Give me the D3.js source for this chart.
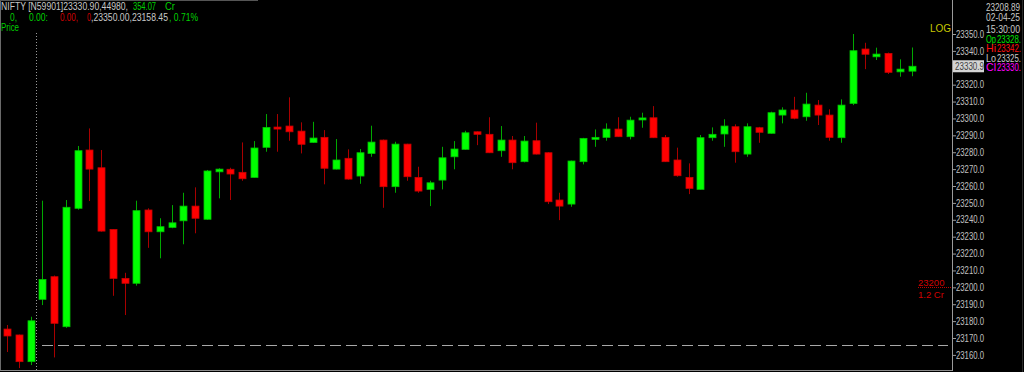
<!DOCTYPE html>
<html lang="en">
<head>
<meta charset="UTF-8">
<title>NIFTY intraday candles</title>
<script src="https://cdn.jsdelivr.net/npm/d3@7"></script>
<style>
  html, body { margin: 0; padding: 0; background: #000; }
  svg { display: block; font-family: "Liberation Sans", Arial, sans-serif; }
</style>
</head>
<body>
<div id="container"></div>
<script>
// candle values, one entry per bar
const opens = [
  23175.3, 23171.8, 23156.0, 23192.9, 23206.3, 23176.7, 23246.8, 23281.3, 23270.8, 23234.3,
  23205.3, 23202.4, 23245.8, 23232.9, 23235.5, 23239.4, 23248.1, 23240.3, 23268.4, 23269.9,
  23268.1, 23265.1, 23282.9, 23294.9, 23295.5, 23292.5, 23285.8, 23288.8, 23270.0, 23276.4,
  23265.9, 23279.3, 23287.2, 23259.6, 23284.8, 23265.1, 23258.0, 23263.5, 23277.3, 23281.7,
  23292.1, 23290.6, 23280.9, 23287.2, 23274.4, 23286.8, 23279.7, 23251.7, 23249.3, 23274.4,
  23288.0, 23288.8, 23293.7, 23289.2, 23299.6, 23300.4, 23288.8, 23275.4, 23265.1, 23258.0,
  23288.6, 23290.8, 23295.1, 23278.9, 23294.5, 23291.2, 23302.0, 23305.0, 23301.0, 23307.9,
  23302.0, 23288.6, 23308.9, 23341.1, 23336.5, 23338.5, 23327.6, 23328.0
];
const highs = [
  23177.7, 23172.0, 23182.6, 23251.3, 23207.0, 23251.7, 23283.7, 23294.1, 23281.3, 23234.5,
  23208.6, 23251.3, 23246.8, 23240.9, 23248.7, 23256.0, 23259.2, 23269.5, 23270.5, 23270.8,
  23285.8, 23286.6, 23302.6, 23302.6, 23312.5, 23297.7, 23298.0, 23293.1, 23287.8, 23281.7,
  23281.9, 23295.7, 23287.5, 23286.2, 23285.0, 23271.4, 23263.1, 23283.2, 23286.6, 23292.7,
  23292.3, 23300.7, 23295.5, 23289.6, 23289.6, 23297.5, 23280.0, 23256.0, 23275.0, 23288.5,
  23293.5, 23297.1, 23300.7, 23301.0, 23303.4, 23307.3, 23290.2, 23282.7, 23273.4, 23290.2,
  23294.7, 23299.5, 23296.5, 23297.1, 23295.0, 23304.0, 23306.6, 23312.8, 23315.2, 23310.9,
  23305.4, 23311.3, 23350.0, 23344.8, 23341.9, 23339.0, 23335.0, 23342.0
];
const lows = [
  23161.7, 23152.2, 23154.0, 23189.5, 23158.5, 23176.0, 23246.0, 23251.1, 23233.0, 23195.0,
  23183.6, 23201.0, 23223.4, 23217.2, 23235.0, 23225.5, 23232.0, 23240.0, 23252.7, 23251.7,
  23263.1, 23265.0, 23280.3, 23280.3, 23286.8, 23279.3, 23285.5, 23261.0, 23269.8, 23263.8,
  23261.3, 23277.3, 23247.1, 23256.0, 23263.1, 23256.0, 23248.1, 23258.0, 23269.9, 23281.5,
  23284.2, 23279.5, 23277.3, 23269.9, 23274.0, 23278.7, 23249.3, 23239.8, 23247.7, 23272.8,
  23283.2, 23286.8, 23289.0, 23287.6, 23294.5, 23288.4, 23274.2, 23265.5, 23255.2, 23257.8,
  23286.8, 23283.2, 23273.8, 23277.3, 23285.6, 23291.0, 23297.1, 23299.5, 23298.6, 23296.1,
  23286.8, 23285.6, 23307.9, 23329.2, 23334.6, 23326.3, 23324.7, 23325.0
];
const closes = [
  23171.2, 23156.0, 23180.2, 23204.7, 23178.7, 23247.4, 23280.9, 23270.0, 23233.3, 23205.3,
  23202.4, 23245.4, 23232.9, 23235.9, 23238.2, 23248.1, 23240.9, 23268.9, 23270.0, 23267.1,
  23264.3, 23282.5, 23294.7, 23293.9, 23292.1, 23284.7, 23288.4, 23270.5, 23275.4, 23264.1,
  23279.7, 23286.0, 23259.6, 23284.8, 23265.5, 23257.0, 23261.9, 23276.7, 23281.9, 23291.5,
  23290.6, 23279.7, 23287.2, 23273.8, 23286.6, 23278.9, 23250.7, 23248.1, 23274.8, 23288.2,
  23288.8, 23293.7, 23289.2, 23299.0, 23300.3, 23288.6, 23274.4, 23266.1, 23258.6, 23288.6,
  23290.6, 23295.5, 23280.3, 23295.1, 23291.8, 23303.4, 23305.0, 23300.1, 23308.5, 23302.0,
  23288.8, 23307.9, 23340.1, 23338.0, 23338.1, 23327.3, 23329.2, 23330.9
];

const priceTicks = d3.range(23160, 23351, 10);
const lastClose = 23330.9;
const dayBreakIndex = 2.5;      // session separator, between 3rd and 4th bar
const dashedLevel = 23165.7;
const markerLevel = 23200;

const infoLines = [
  { label: "", text: "23208.89", color: "#c8c8c8" },
  { label: "", text: "02-04-25", color: "#c8c8c8" },
  { label: "", text: "15:30:00", color: "#c8c8c8" },
  { label: "Op", text: "23328.", color: "#00e000" },
  { label: "Hi", text: "23342.", color: "#ff1010" },
  { label: "Lo", text: "23325.", color: "#c8c8c8" },
  { label: "Cl", text: "23330.", color: "#ff00ff" }
];

const width = 1024;
const height = 372;
const axisX = 952;
const plotBottom = 370;

const candles = opens.map((o, i) => ({
  i, o, h: highs[i], l: lows[i], c: closes[i], up: closes[i] >= o
}));

const x = d3.scaleLinear()
  .domain([0, candles.length - 1])
  .range([7.2, 911.7]);

const y = d3.scaleLinear()
  .domain([23160, 23350])
  .range([354.9, 34.0]);

const svg = d3.create("svg")
  .attr("width", width)
  .attr("height", height);

svg.append("rect")
  .attr("width", width).attr("height", height)
  .attr("fill", "#000");

// frame lines
svg.append("line")
  .attr("x1", 0.5).attr("x2", 0.5).attr("y1", 0).attr("y2", plotBottom)
  .attr("stroke", "#6a6a6a");
svg.append("line")
  .attr("x1", 0).attr("x2", axisX).attr("y1", plotBottom + 0.5).attr("y2", plotBottom + 0.5)
  .attr("stroke", "#8a8a8a");
svg.append("line")
  .attr("x1", 0).attr("x2", 258).attr("y1", 0.5).attr("y2", 0.5)
  .attr("stroke", "#555");
svg.append("line")
  .attr("x1", 1022.5).attr("x2", 1022.5).attr("y1", 0).attr("y2", height)
  .attr("stroke", "#2a2a2a");

// session separator (dotted) and dashed level
const sepX = Math.floor(x(dayBreakIndex)) + 0.5;
svg.append("line")
  .attr("x1", sepX).attr("x2", sepX).attr("y1", 33).attr("y2", plotBottom)
  .attr("stroke", "#9a9a9a")
  .attr("stroke-dasharray", "1,2");

svg.append("line")
  .attr("x1", 42).attr("x2", 948)
  .attr("y1", Math.round(y(dashedLevel)) + 0.5).attr("y2", Math.round(y(dashedLevel)) + 0.5)
  .attr("stroke", "#a8a8a8")
  .attr("stroke-dasharray", "11,5");

// candles
const g = svg.append("g");

g.selectAll(".wick")
  .data(candles)
  .join("line")
  .attr("class", "wick")
  .attr("x1", d => Math.round(x(d.i)) + 0.5)
  .attr("x2", d => Math.round(x(d.i)) + 0.5)
  .attr("y1", d => y(d.h))
  .attr("y2", d => y(d.l))
  .attr("stroke", d => d.up ? "#00a800" : "#a80000");

g.selectAll(".body")
  .data(candles)
  .join("rect")
  .attr("class", "body")
  .attr("x", d => Math.round(x(d.i)) - 3)
  .attr("width", 7)
  .attr("y", d => Math.min(y(d.o), y(d.c)))
  .attr("height", d => Math.max(2, Math.abs(y(d.o) - y(d.c))))
  .attr("fill", d => d.up ? "#00ff00" : "#ff0000")
  .attr("stroke", d => d.up ? "#00c000" : "#c80000")
  .attr("stroke-width", 0.8);

// right price axis
svg.append("line")
  .attr("x1", axisX + 0.5).attr("x2", axisX + 0.5).attr("y1", 0).attr("y2", plotBottom + 1)
  .attr("stroke", "#9a9a9a");

const axis = svg.append("g")
  .attr("transform", `translate(${axisX + 1},0)`)
  .call(d3.axisRight(y)
    .tickValues(priceTicks)
    .tickFormat(d3.format(".1f"))
    .tickSize(3)
    .tickPadding(0));

axis.select(".domain").remove();
axis.selectAll(".tick line").attr("stroke", "#9a9a9a");
axis.selectAll(".tick text")
  .attr("fill", "#c0c0c0")
  .attr("font-size", 10)
  .attr("font-family", "Liberation Sans, Arial, sans-serif")
  .attr("textLength", 28)
  .attr("lengthAdjust", "spacingAndGlyphs");

// last price box
svg.append("rect")
  .attr("x", axisX + 1).attr("y", y(lastClose) - 6)
  .attr("width", 31).attr("height", 12)
  .attr("fill", "#d4d4d4");
svg.append("text")
  .attr("x", axisX + 3).attr("y", y(lastClose) + 4)
  .attr("font-size", 10)
  .attr("fill", "#404040")
  .attr("textLength", 29)
  .attr("lengthAdjust", "spacingAndGlyphs")
  .text(d3.format(".1f")(lastClose));

svg.append("text")
  .attr("x", axisX - 1).attr("y", 32)
  .attr("text-anchor", "end")
  .attr("font-size", 10)
  .attr("fill", "#c8c800")
  .text("LOG");

// 23200 marker
const my = Math.round(y(markerLevel)) + 0.5;
svg.append("line")
  .attr("x1", 918).attr("x2", axisX).attr("y1", my).attr("y2", my)
  .attr("stroke", "#c00000")
  .attr("stroke-dasharray", "1,1");
svg.append("text")
  .attr("x", 918).attr("y", my - 2)
  .attr("font-size", 9.5).attr("fill", "#d00000")
  .text(markerLevel);
svg.append("text")
  .attr("x", 918).attr("y", my + 10)
  .attr("font-size", 9.5).attr("fill", "#d00000")
  .text("1.2 Cr");

// info panel at right
const infoY = [11, 21, 33, 43, 52, 62, 71];
const info = svg.append("g").attr("font-size", 10.5);
infoLines.forEach((d, k) => {
  if (d.label) {
    info.append("text")
      .attr("x", 986).attr("y", infoY[k])
      .attr("fill", d.color)
      .attr("textLength", 10)
      .attr("lengthAdjust", "spacingAndGlyphs")
      .text(d.label);
  }
  info.append("text")
    .attr("x", d.label ? 997 : 986).attr("y", infoY[k])
    .attr("fill", d.color)
    .attr("textLength", d.label ? 24 : 34)
    .attr("lengthAdjust", "spacingAndGlyphs")
    .text(d.text);
});

// header
const header = [
  { x: 1, y: 10, w: 127, text: "NIFTY [N59901]23330.90,44980,", color: "#c8c8c8" },
  { x: 133, y: 10, w: 23, text: "354.07", color: "#00d000" },
  { x: 165, y: 10, w: 10, text: "Cr", color: "#00d000" },
  { x: 10, y: 21, w: 7, text: "0,", color: "#00d000" },
  { x: 29, y: 21, w: 19, text: "0.00:", color: "#00d000" },
  { x: 60, y: 21, w: 18, text: "0.00,", color: "#d00000" },
  { x: 87, y: 21, w: 4, text: "0", color: "#d00000" },
  { x: 91, y: 21, w: 77, text: ",23350.00,23158.45", color: "#c8c8c8" },
  { x: 169, y: 21, w: 29, text: ", 0.71%", color: "#00d000" },
  { x: 1, y: 31, w: 18, text: "Price", color: "#00d000" }
];
svg.append("g")
  .selectAll("text")
  .data(header)
  .join("text")
  .attr("x", d => d.x)
  .attr("y", d => d.y)
  .attr("font-size", 10)
  .attr("fill", d => d.color)
  .attr("textLength", d => d.w)
  .attr("lengthAdjust", "spacingAndGlyphs")
  .text(d => d.text);

document.getElementById("container").append(svg.node());
</script>
</body>
</html>
